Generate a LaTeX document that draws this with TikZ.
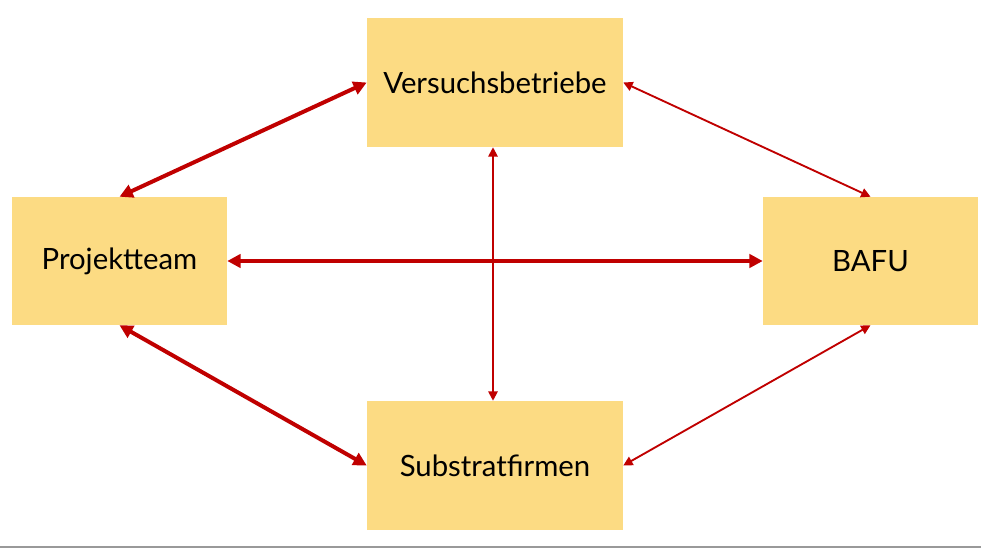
\documentclass[tikz,border=0pt]{standalone}
\usepackage{fontspec}
\setmainfont{Lato}
\usetikzlibrary{arrows.meta}
\definecolor{boxfill}{RGB}{252,219,131}
\definecolor{arrred}{RGB}{192,0,0}
\tikzset{
  box/.style={rectangle, fill=boxfill, draw=none, inner sep=0pt, font=\fontsize{22}{26}\selectfont, text=black},
  thickarr/.style={arrred, line width=3pt, {Triangle[length=10pt,width=10pt]}-{Triangle[length=10pt,width=10pt]}},
  thinarr/.style={arrred, line width=1.4pt, {Triangle[length=7pt,width=7pt]}-{Triangle[length=7pt,width=7pt]}},
}
\begin{document}
\begin{tikzpicture}[x=0.75pt,y=-0.75pt]
\useasboundingbox (0,0) rectangle (981,549);
\fill[white] (0,0) rectangle (981,549);
\node[box, minimum width=192pt, minimum height=96.75pt] (v) at (495,82.5) {Versuchsbetriebe};
\node[box, minimum width=161.25pt, minimum height=96pt] (p) at (119.5,261) {Projektteam};
\node[box, minimum width=161.25pt, minimum height=96pt] (b) at (870.5,261) {BAFU};
\node[box, minimum width=192pt, minimum height=96.75pt] (s) at (495,465.5) {Substratfirmen};
\draw[thickarr] (p.north) -- (v.west);
\draw[thickarr] (p.south) -- (s.west);
\draw[thickarr] (p.east) -- (b.west);
\draw[thinarr] ([xshift=-1.5pt]v.south) -- ([xshift=-1.5pt]s.north);
\draw[thinarr] (v.east) -- (b.north);
\draw[thinarr] (b.south) -- (s.east);
\coordinate (l0) at (0,547);
\coordinate (l1) at (981,547);
\draw[gray!80, line width=1.5pt] (l0) -- (l1);
\end{tikzpicture}
\end{document}
